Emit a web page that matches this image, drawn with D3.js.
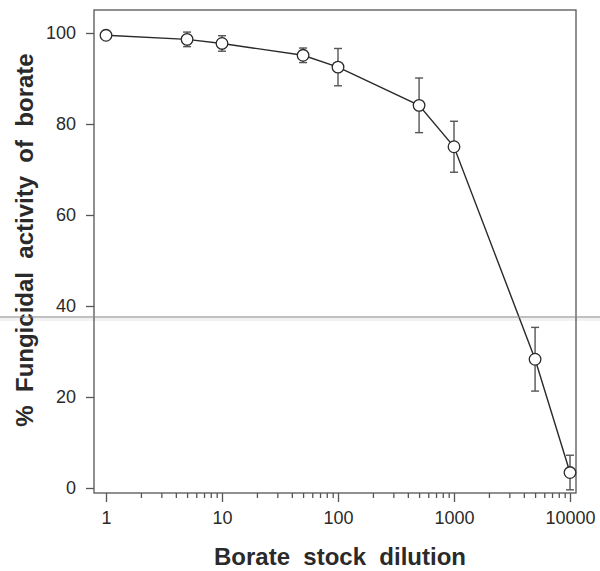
<!DOCTYPE html>
<style type="text/css">
body { margin: 0; background: #fff; }
</style>
<svg id='chart' width="600" height="571" font-family="'Liberation Sans', Arial, sans-serif"></svg>

<script src="https://cdn.jsdelivr.net/npm/d3@7"></script>
<script>

  // borate stock dilution (x) and % fungicidal activity (y) with error
  var dilutions = [1, 5, 10, 50, 100, 500, 1000, 5000, 10000];
  var activity  = [99.5, 98.6, 97.7, 95.1, 92.5, 84.1, 75.0, 28.3, 3.4];
  var errors    = [0.3, 1.6, 1.7, 1.6, 4.1, 6.0, 5.6, 7.0, 3.8];
  var xTickLabels = [1, 10, 100, 1000, 10000];
  var yTickLabels = [0, 20, 40, 60, 80, 100];

  var svg = d3.select("#chart");

  var frame = {left: 94, right: 576, top: 10, bottom: 493};

  var x = d3.scaleLog().domain([1, 10000]).range([106, 570]);
  var y = d3.scaleLinear().domain([0, 100]).range([488, 33]);

  var ink = "#2a2a2a", axisColor = "#555";

  // frame box
  svg.append("rect")
      .attr("x", frame.left)
      .attr("y", frame.top)
      .attr("width", frame.right - frame.left)
      .attr("height", frame.bottom - frame.top)
      .attr("fill", "none")
      .attr("stroke", axisColor)
      .attr("stroke-width", 1.3);

  // y axis (ticks pointing out to the left)
  var yAxis = svg.append("g")
      .attr("transform", "translate(" + frame.left + ",0)")
      .call(d3.axisLeft(y).tickValues(yTickLabels).tickSize(8).tickPadding(10));
  yAxis.select(".domain").remove();
  yAxis.selectAll("line").attr("stroke", axisColor).attr("stroke-width", 1.3);
  yAxis.selectAll("text")
      .attr("font-size", 18)
      .attr("fill", ink)
      .attr("font-family", "'Liberation Sans', Arial, sans-serif");

  // x axis minor ticks (2..9 of each decade)
  var minor = [];
  for (var d = 1; d < 10000; d *= 10)
    for (var k = 2; k <= 9; k++) minor.push(d * k);

  var xMinor = svg.append("g")
      .attr("transform", "translate(0," + frame.bottom + ")")
      .call(d3.axisBottom(x).tickValues(minor).tickSize(5).tickFormat(""));
  xMinor.select(".domain").remove();
  xMinor.selectAll("line").attr("stroke", axisColor).attr("stroke-width", 1.3);

  var xAxis = svg.append("g")
      .attr("transform", "translate(0," + frame.bottom + ")")
      .call(d3.axisBottom(x).tickValues(xTickLabels).tickSize(9).tickPadding(9)
        .tickFormat(d3.format("d")));
  xAxis.select(".domain").remove();
  xAxis.selectAll("line").attr("stroke", axisColor).attr("stroke-width", 1.3);
  xAxis.selectAll("text")
      .attr("font-size", 18)
      .attr("fill", ink)
      .attr("font-family", "'Liberation Sans', Arial, sans-serif");

  // axis titles
  svg.append("text")
      .attr("x", 340)
      .attr("y", 565)
      .attr("text-anchor", "middle")
      .attr("font-size", 24)
      .attr("font-weight", "bold")
      .attr("fill", ink)
      .style("white-space", "pre")
      .text("Borate  stock  dilution");

  svg.append("text")
      .attr("transform", "translate(33,240) rotate(-90)")
      .attr("text-anchor", "middle")
      .attr("font-size", 24)
      .attr("font-weight", "bold")
      .attr("fill", ink)
      .style("white-space", "pre")
      .text("%  Fungicidal  activity  of  borate");

  var pts = dilutions.map(function(d, i){
    return {x: d, y: activity[i], e: errors[i]};
  });

  // connecting line
  svg.append("path")
      .datum(pts)
      .attr("fill", "none")
      .attr("stroke", ink)
      .attr("stroke-width", 1.4)
      .attr("d", d3.line()
        .x(function(d){ return x(d.x); })
        .y(function(d){ return y(d.y); }));

  // error bars
  var eb = svg.selectAll(".err")
    .data(pts)
    .enter().append("g")
      .attr("class", "err")
      .attr("stroke", axisColor)
      .attr("stroke-width", 1.4);

  eb.append("line")
      .attr("x1", function(d){ return x(d.x); })
      .attr("x2", function(d){ return x(d.x); })
      .attr("y1", function(d){ return y(d.y + d.e); })
      .attr("y2", function(d){ return y(d.y - d.e); });
  eb.append("line")
      .attr("x1", function(d){ return x(d.x) - 4; })
      .attr("x2", function(d){ return x(d.x) + 4; })
      .attr("y1", function(d){ return y(d.y + d.e); })
      .attr("y2", function(d){ return y(d.y + d.e); });
  eb.append("line")
      .attr("x1", function(d){ return x(d.x) - 4; })
      .attr("x2", function(d){ return x(d.x) + 4; })
      .attr("y1", function(d){ return y(d.y - d.e); })
      .attr("y2", function(d){ return y(d.y - d.e); });

  // open circle markers
  svg.selectAll(".pt")
    .data(pts)
    .enter().append("circle")
      .attr("class", "pt")
      .attr("cx", function(d){ return x(d.x); })
      .attr("cy", function(d){ return y(d.y); })
      .attr("r", 5.8)
      .attr("fill", "#fff")
      .attr("stroke", ink)
      .attr("stroke-width", 1.3);

  // faint horizontal scan line across the page
  svg.append("rect")
      .attr("x", 0).attr("y", 318)
      .attr("width", 600).attr("height", 3)
      .attr("fill", "#000")
      .attr("fill-opacity", 0.05);
  svg.append("line")
      .attr("x1", 0).attr("x2", 600)
      .attr("y1", 317).attr("y2", 317)
      .attr("stroke", "#888")
      .attr("stroke-opacity", 0.7)
      .attr("stroke-width", 1.5);

</script>
